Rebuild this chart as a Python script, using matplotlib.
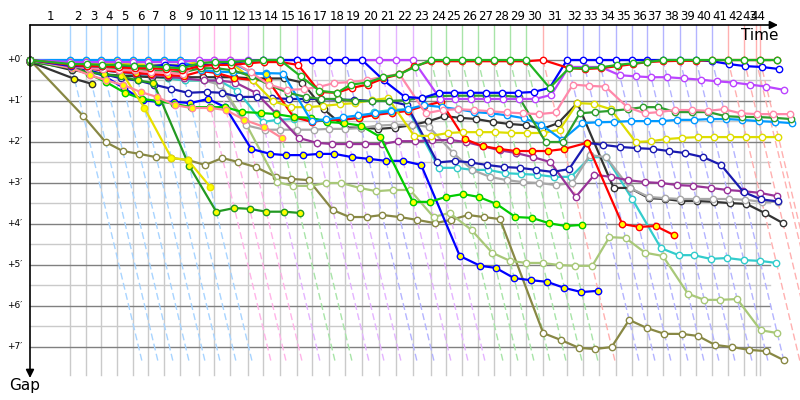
import matplotlib
matplotlib.use('Agg')
import matplotlib.pyplot as plt

# ---------------- data ----------------
# leader's crossing time (minutes) at the end of each lap, lap 0..44 (used for car points)
lap_times = [0.0, 4.08, 5.71, 7.24, 8.88, 10.51, 12.04, 13.67, 15.31, 17.24,
             18.78, 20.41, 22.24, 23.78, 25.51, 27.24, 28.78, 30.51, 32.14, 33.88,
             35.61, 37.35, 39.08, 40.92, 42.45, 44.08, 45.71, 47.35, 48.98, 50.61,
             52.35, 54.80, 56.43, 58.06, 59.80, 61.43, 62.96, 64.59, 66.33, 67.96,
             69.59, 71.22, 72.86, 74.49, 76.22]
# times of the drawn lap lines / grid (last two laps are compressed on the chart)
lap_line_times = lap_times[:43] + [74.08, 74.49]
lap_labels = [str(i) for i in range(1, 45)]

# colour of each lap line (light tint of the car leading that lap), laps 1..44
lap_line_colors = (['#A8D4FF'] * 8 + ['#FFB4E8'] * 3 + ['#E4B4FF'] +
                   ['#A8E4A8'] * 2 + ['#E4B4FF'] * 3 + ['#B4B4FF'] * 2 +
                   ['#E4B4FF'] * 3 + ['#A8E4A8'] * 7 + ['#FFB0B0'] +
                   ['#B4B4FF'] * 10 + ['#FFB0B0'] * 4)

gap_ticks = [0, 1, 2, 3, 4, 5, 6, 7]
gap_labels = ["+0\u2032", "+1\u2032", "+2\u2032", "+3\u2032", "+4\u2032",
              "+5\u2032", "+6\u2032", "+7\u2032"]

# gap to the leader (minutes) per completed lap, starting at lap 0
green_win = [0, .1, .1, .12, .12, .15, .15, .18, .2, .08, .05, .05, .02, 0, 0,
             .4, .75, .8, .6, .55, .42, .35, .17, 0, 0, 0, 0, 0, 0, 0,
             .68, .2, .2, .18, .12, .08, .05, 0, 0, 0, 0, 0, 0, 0, 0]
red_open = [0, .12, .15, .15, .18, .2, .2, .22, .25, .15, .12, .12, .08, .05, .05,
            .12, .78, .8, .68, .6, .45, .35, .15, .03, .03, .03, .03, .03, .03, .03,
            0, .2, .22, .2, .15, .1, .05, .03, .02, .02, 0, 0, 0, 0, 0]
blue_open = [0, .15, .15, .15, .15, .15, .15, .12, .15, .12, .12, .08, .02, 0, 0,
             0, 0, 0, 0, 0, .5, .9, .93, .8, .8, .8, .8, .8, .8, .78, .68,
             0, 0, 0, 0, 0, 0, 0, 0, 0, .03, .1, .15, .17, .22]
violet_open = [0, .05, .05, .05, .05, .05, .05, .05, .05, 0, 0, 0, 0, 0, 0, 0, 0,
               0, 0, 0, 0, 0, 0, .95, .95, .95, .95, .95, .95, .95, .85, .17, .17,
               .17, .37, .4, .42, .42, .45, .48, .52, .55, .6, .65, .73]
pink_open = [0, .15, .2, .22, .25, .25, .3, .3, .35, .05, 0, 0, .3, .6, .73, .71,
             .66, .56, .54, .49, .41, .34, 1.3, 1.22, 1.2, 1.22, 1.25, 1.28, 1.3,
             1.32, 1.28, .6, .63, .65, 1.15, 1.3, 1.27, 1.22, 1.22, 1.24, 1.2, 1.3,
             1.32, 1.32, 1.32]
forest_open = [0, .15, .2, .2, .22, .25, .25, .28, .3, .2, .2, .25, .4, .6, .8,
               .9, .95, .95, 1.0, 1.0, 1.0, .98, .92, .88, .87, .87, .87, .87, .9,
               2.0, 2.0, 1.3, 1.27, 1.24, 1.2, 1.15, 1.15, 1.27, 1.27, 1.27, 1.37,
               1.39, 1.39, 1.41, 1.44]
azure_open = [0, .02, .02, .02, .02, .02, .02, .02, .02, .25, .28, .3, .34, .32,
              .33, 1.5, 1.45, 1.4, 1.35, 1.3, 1.25, 1.2, 1.1, 1.15, 1.2, 1.27, 1.3,
              1.35, 1.42, 1.58, 1.95, 1.54, 1.52, 1.51, 1.49, 1.49, 1.49, 1.46,
              1.46, 1.44, 1.44, 1.46, 1.49, 1.51, 1.54]
azure_yel = [0, 0, 0, 0, 0, 0, 0, 0, 0, .02, .02, .05, .3, .35]
yellow_open = [0, .05, .05, .08, .1, .1, .12, .12, .12, .05, .05, .05, .5, 1.0,
               1.15, 1.15, 1.12, 1.08, 1.05, .98, .93, 1.85, 1.85, 1.78, 1.76,
               1.76, 1.76, 1.78, 1.78, 1.78, 1.7, 1.05, 1.07, 1.2, 2.0, 1.98, 1.93,
               1.9, 1.88, 1.88, 1.88, 1.88, 1.88, 1.88]
navy_open = [0, .15, .25, .35, .45, .5, .6, .7, .8, .78, .8, .9, .9, .93, .95,
             .95, .95, .97, .97, 1.0, 1.0, 1.1, 2.5, 2.46, 2.5, 2.56, 2.61, 2.63,
             2.68, 2.73, 2.66, 2.02, 2.07, 2.12, 2.15, 2.17, 2.22, 2.27, 2.37,
             2.56, 3.22, 3.4, 3.45]
purple_open = [0, .15, .2, .25, .3, .33, .36, .4, .45, .5, .5, .55, .8, 1.3, 1.9,
               2.02, 2.05, 2.05, 2.05, 2.05, 1.98, 1.98, 1.96, 1.95, 2.0, 2.1, 2.2,
               2.27, 2.37, 2.49, 3.34, 2.8, 2.85, 2.93, 2.98, 3.0, 3.05, 3.07,
               3.12, 3.17, 3.2, 3.24, 3.32]
gray_open = [0, .1, .15, .2, .25, .3, .35, .4, .45, .5, .6, 1.59, 1.7, 1.7, 1.7,
             1.7, 1.68, 1.68, 1.66, 1.6, 1.58, 1.58, 1.63, 2.27, 2.68, 2.85, 2.93,
             2.98, 3.0, 3.05, 3.0, 2.32, 2.37, 3.12, 3.34, 3.37, 3.39, 3.39, 3.39,
             3.39, 3.41, 3.46, 3.46]
black_open = [0, .25, .3, .35, .38, .4, .42, .42, .42, .42, .42, .42, .45, .45,
              .45, .55, 1.2, 1.65, 1.65, 1.68, 1.65, 1.59, 1.5, 1.37, 1.41, 1.44,
              1.51, 1.56, 1.59, 1.68, 1.54, 1.05, 3.12, 3.12, 3.37, 3.39, 3.44,
              3.44, 3.46, 3.49, 3.51, 3.73, 3.98]
black_yel = [.05, .46, .58]
cyan_open = [0, .15, .2, .25, .3, .35, .4, .45, .5, .5, .5, .75, 1.51, 1.46, 1.44,
             1.44, 1.46, 1.44, 1.42, 1.27, 1.22, 1.2, 2.63, 2.63, 2.68, 2.68, 2.76,
             2.78, 2.8, 2.85, 2.85, 2.37, 2.37, 3.39, 4.59, 4.76, 4.76, 4.85, 4.83,
             4.88, 4.9, 4.95]
lolive_open = [0, .15, .2, .25, .3, .35, .4, .45, .5, .5, .55, 1.5, 2.98, 3.07,
               3.07, 3.0, 3.0, 3.12, 3.2, 3.17, 3.17, 3.83, 3.73, 4.15, 4.7, 4.9,
               4.95, 4.95, 5.0, 5.02, 5.02, 4.32, 4.34, 4.7, 4.78, 5.7, 5.85, 5.85,
               5.83, 6.59, 6.66]
olive_open = [0, 1.37, 2.0, 2.22, 2.29, 2.37, 2.39, 2.44, 2.56, 2.39, 2.49, 2.61,
              2.85, 2.9, 2.93, 3.66, 3.83, 3.83, 3.78, 3.83, 3.9, 3.98, 3.9, 3.78,
              3.83, 3.88, 6.66, 6.83, 7.02, 7.05, 7.0, 6.34, 6.54, 6.68, 6.68,
              6.73, 6.95, 7.0, 7.07, 7.1, 7.32]
red_yel = [.05, .15, .2, .25, .28, .32, .34, .37, .39, .27, .32, .44, .49, .49,
           1.39, 1.51, 1.46, 1.46, 1.41, 1.34, 1.29, 1.24, 1.12, 1.02, 1.93, 2.1,
           2.17, 2.22, 2.22, 2.22, 2.17, 2.02, 4.0, 4.07, 4.05, 4.27]
green_yel = [0, .2, .35, .54, .8, .95, 1.0, 1.07, 1.15, 1.15, 1.15, 1.27, 1.29,
             1.32, 1.39, 1.41, 1.51, 1.54, 1.6, 1.88, 3.46, 3.46, 3.34, 3.27, 3.34,
             3.51, 3.83, 3.85, 3.98, 4.05, 4.02]
blue_yel = [.05, .1, .25, .4, .68, .98, 1.02, 1.02, 1.05, .95, 1.15, 2.17, 2.29,
            2.32, 2.32, 2.29, 2.29, 2.37, 2.41, 2.46, 2.46, 2.56, 4.78, 5.02, 5.07,
            5.32, 5.37, 5.41, 5.56, 5.66, 5.63]
yellow_yel = [0, .1, .1, .12, .2, 1.17, 2.39, 2.44, 3.1]
forest_yel = [.05, .2, .3, .35, .4, .5, .56, 2.59, 3.7, 3.61, 3.63, 3.7, 3.7, 3.73]
pink_yel = [0, .2, .37, .49, .61, .78, .9, 1.1, 1.17, 1.17, 1.22, 1.46, 1.63, 1.9]

# (gaps, line colour, marker face) drawn back to front
series = [
    (olive_open, '#888844', 'white'),
    (lolive_open, '#A8C878', 'white'),
    (cyan_open, '#33CCCC', 'white'),
    (black_open, '#333333', 'white'),
    (black_yel, '#333333', '#FFFF00'),
    (gray_open, '#A8A8A8', 'white'),
    (purple_open, '#993399', 'white'),
    (navy_open, '#1A1AB0', 'white'),
    (blue_yel, '#0000FF', '#FFFF00'),
    (red_yel, '#FF0000', '#FFFF00'),
    (green_yel, '#00CC00', '#FFFF00'),
    (forest_yel, '#229922', '#FFFF00'),
    (yellow_yel, '#E8E000', '#FFFF00'),
    (pink_yel, '#FF8899', '#FFFF00'),
    (yellow_open, '#DDDD00', 'white'),
    (azure_open, '#0099FF', 'white'),
    (azure_yel, '#0099FF', '#FFFF00'),
    (forest_open, '#2E9E2E', 'white'),
    (pink_open, '#FF88AA', 'white'),
    (violet_open, '#BB44FF', 'white'),
    (blue_open, '#0000FF', 'white'),
    (red_open, '#FF0000', 'white'),
    (green_win, '#22B422', 'white'),
]

# ---------------- figure ----------------
PX_PER_MIN_X = 9.8
PX_PER_MIN_Y = 41.0
fig = plt.figure(figsize=(8, 4), dpi=100)
ax = fig.add_axes([0, 0, 1, 1])
ax.set_xlim(-30 / PX_PER_MIN_X, 770 / PX_PER_MIN_X)
ax.set_ylim(340 / PX_PER_MIN_Y, -60 / PX_PER_MIN_Y)
ax.axis('off')

top_g = -35 / PX_PER_MIN_Y       # y of the time axis
bottom_g = 315 / PX_PER_MIN_Y    # bottom of vertical grid
x_end = 740 / PX_PER_MIN_X       # right end of horizontal grid
diag_end = 7.35

# horizontal grid
for g in range(0, 8):
    ax.plot([0, x_end], [g, g], color='#808080', lw=1, zorder=1)
for g in [0.5, 1.5, 2.5, 3.5, 4.5, 5.5, 6.5]:
    ax.plot([0, x_end], [g, g], color='#CACACA', lw=1, zorder=0.9)

# vertical grid + lap lines
for k in range(1, len(lap_line_times)):
    t = lap_line_times[k]
    ax.plot([t, t], [0, bottom_g], color='#CACACA', lw=1, zorder=0.9)
    c = lap_line_colors[k - 1]
    ax.plot([t, t], [top_g, 0], color=c, lw=1, zorder=1.2)
    ax.plot([t, t + diag_end], [0, diag_end], color=c, lw=1,
            linestyle=(0, (5, 2.5)), zorder=1.2)

# lap labels between crossings
for k in range(1, len(lap_line_times)):
    mid = (lap_line_times[k - 1] + lap_line_times[k]) / 2
    ax.text(mid, -43 / PX_PER_MIN_Y, lap_labels[k - 1], ha='center', va='center',
            fontsize=8.5, family='DejaVu Sans', color='black')

# gap tick labels
for g, lab in zip(gap_ticks, gap_labels):
    ax.text(-8 / PX_PER_MIN_X, g, lab, ha='right', va='center', fontsize=6.5,
            family='DejaVu Sans', color='black')

# series
for gaps, col, face in series:
    xs = [lap_times[i] + g for i, g in enumerate(gaps)]
    ax.plot(xs, gaps, color=col, lw=1.6, marker='o', markersize=4.6,
            markerfacecolor=face, markeredgecolor=col, markeredgewidth=1.0,
            zorder=3, solid_joinstyle='round')

# axes with arrows
ax.annotate('', xy=(748 / PX_PER_MIN_X, top_g), xytext=(0, top_g),
            arrowprops=dict(arrowstyle='-|>', color='black', lw=1.2,
                            mutation_scale=12, shrinkA=0, shrinkB=0), zorder=5)
ax.annotate('', xy=(0, 318 / PX_PER_MIN_Y), xytext=(0, top_g),
            arrowprops=dict(arrowstyle='-|>', color='black', lw=1.2,
                            mutation_scale=12, shrinkA=0, shrinkB=0), zorder=5)
ax.text(730 / PX_PER_MIN_X, -24 / PX_PER_MIN_Y, 'Time', ha='center', va='center',
        fontsize=11, family='DejaVu Sans')
ax.text(-5 / PX_PER_MIN_X, 326 / PX_PER_MIN_Y, 'Gap', ha='center', va='center',
        fontsize=11, family='DejaVu Sans')

fig.savefig('out.png', dpi=100)
